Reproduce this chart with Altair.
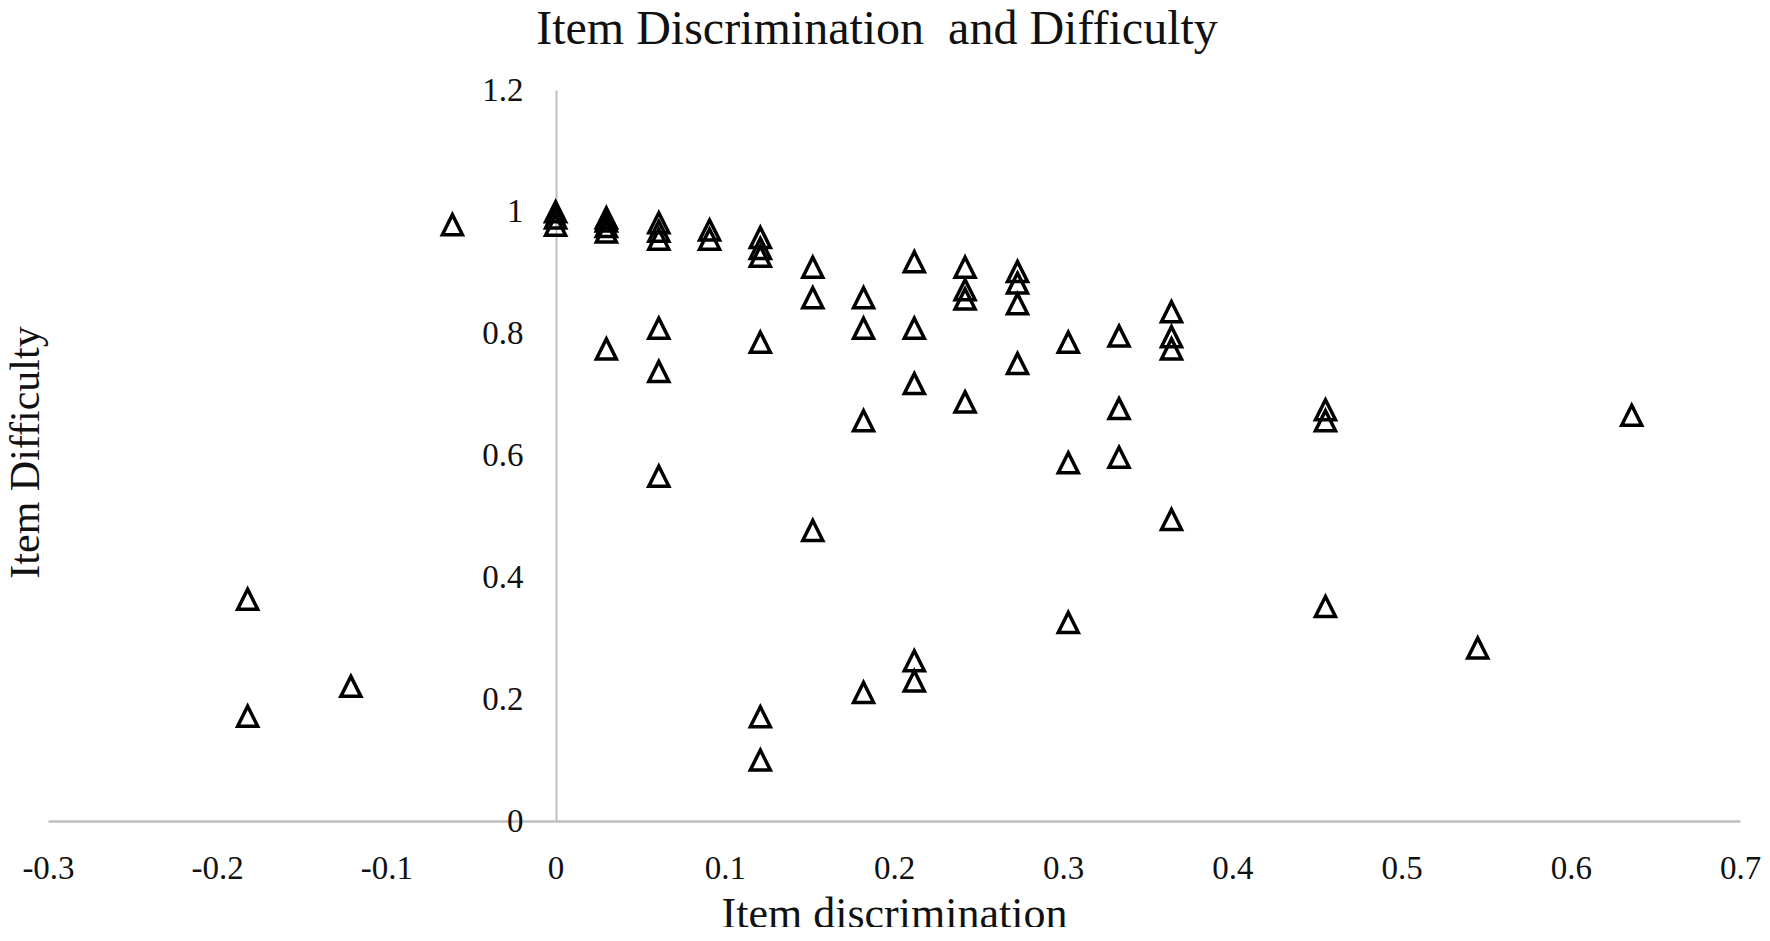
import altair as alt
import pandas as pd

# Item discrimination (x) and item difficulty (y)
discrimination = [
    -0.182, -0.182, -0.121, -0.061,
    0.0, 0.0, 0.0,
    0.030, 0.030, 0.030, 0.030, 0.030,
    0.061, 0.061, 0.061, 0.061, 0.061, 0.061,
    0.091, 0.091,
    0.121, 0.121, 0.121, 0.121, 0.121, 0.121,
    0.152, 0.152, 0.152,
    0.182, 0.182, 0.182, 0.182,
    0.212, 0.212, 0.212, 0.212, 0.212,
    0.242, 0.242, 0.242, 0.242,
    0.273, 0.273, 0.273, 0.273,
    0.303, 0.303, 0.303,
    0.333, 0.333, 0.333,
    0.364, 0.364, 0.364, 0.364,
    0.455, 0.455, 0.455,
    0.545,
    0.636,
]
difficulty = [
    0.364, 0.172, 0.221, 0.979,
    1.000, 0.990, 0.978,
    0.990, 0.985, 0.976, 0.967, 0.775,
    0.982, 0.968, 0.955, 0.809, 0.738, 0.566,
    0.970, 0.955,
    0.958, 0.940, 0.927, 0.786, 0.171, 0.100,
    0.909, 0.859, 0.477,
    0.859, 0.809, 0.657, 0.211,
    0.918, 0.809, 0.718, 0.263, 0.230,
    0.909, 0.872, 0.857, 0.688,
    0.902, 0.883, 0.849, 0.751,
    0.786, 0.588, 0.326,
    0.796, 0.677, 0.597,
    0.836, 0.795, 0.775, 0.495,
    0.675, 0.657, 0.352,
    0.284,
    0.666,
]
x_ticks = [-0.3, -0.2, -0.1, 0, 0.1, 0.2, 0.3, 0.4, 0.5, 0.6, 0.7]
y_ticks = [0, 0.2, 0.4, 0.6, 0.8, 1, 1.2]
chart_title = ["Item Discrimination \u00a0and Difficulty"]

df = pd.DataFrame({"disc": discrimination, "diff": difficulty})
title_df = pd.DataFrame({"t": chart_title})

FONT = "Liberation Serif"
W, H = 1692, 731

points = (
    alt.Chart(df)
    .mark_point(
        shape="M0,-1L1,1L-1,1Z",
        filled=False,
        stroke="black",
        strokeWidth=3.5,
        size=400,
        opacity=1,
    )
    .encode(
        x=alt.X(
            "disc:Q",
            scale=alt.Scale(domain=[-0.3, 0.7], nice=False, zero=False),
            axis=alt.Axis(
                title="Item discrimination",
                values=x_ticks,
                labelExpr="'' + datum.value",
                grid=False,
                ticks=False,
                tickSize=0,
                domainColor="#bfbfbf",
                domainWidth=2.5,
                labelFont=FONT,
                labelFontSize=33,
                labelColor="#111111",
                labelBaseline="alphabetic",
                labelPadding=57,
                labelFlush=False,
                labelOverlap=False,
                titleFont=FONT,
                titleFontSize=44,
                titleFontWeight="normal",
                titleColor="#111111",
                titleBaseline="alphabetic",
                titleY=106,
            ),
        ),
        y=alt.Y(
            "diff:Q",
            scale=alt.Scale(domain=[0, 1.2], nice=False, zero=False),
            axis=alt.Axis(
                title="Item Difficulty",
                values=y_ticks,
                labelExpr="'' + datum.value",
                grid=False,
                ticks=False,
                tickSize=0,
                offset=-508,
                domainColor="#bfbfbf",
                domainWidth=2,
                labelFont=FONT,
                labelFontSize=33,
                labelColor="#111111",
                labelPadding=33,
                labelFlush=False,
                labelOverlap=False,
                titleFont=FONT,
                titleFontSize=42,
                titleFontWeight="normal",
                titleColor="#111111",
                titleAngle=270,
                titleAlign="center",
                titleBaseline="alphabetic",
                titleX=-518,
                titleY=362,
            ),
        ),
    )
)

title = (
    alt.Chart(title_df)
    .mark_text(
        font=FONT,
        fontSize=48,
        color="#111111",
        align="center",
        baseline="alphabetic",
    )
    .encode(text="t:N", x=alt.value(829), y=alt.value(-46))
)

chart = (
    alt.layer(points, title)
    .properties(
        width=W,
        height=H,
        autosize=alt.AutoSizeParams(type="none"),
        padding={"left": 40, "top": 82, "right": 22, "bottom": 106},
    )
    .configure(background="white")
    .configure_view(strokeWidth=0, stroke="transparent")
)

chart.save("out.html", embed_options={"renderer": "svg", "actions": False})
